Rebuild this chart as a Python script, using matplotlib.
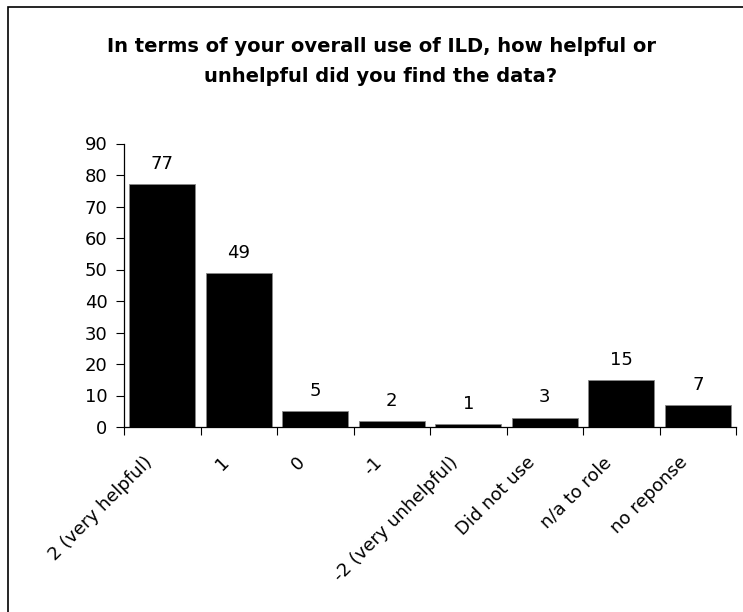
import matplotlib
matplotlib.use("Agg")
import matplotlib.pyplot as plt
from matplotlib.patches import Rectangle
from matplotlib.transforms import ScaledTranslation

plt.rcParams['font.family'] = ['DejaVu Sans']

categories = ["2 (very helpful)", "1", "0", "-1", "-2 (very unhelpful)",
              "Did not use", "n/a to role", "no reponse"]
counts = [77, 49, 5, 2, 1, 3, 15, 7]
yticks = list(range(0, 100, 10))

W, H = 743, 612
fig = plt.figure(figsize=(W / 100, H / 100), dpi=100)

# outer frame of the chart area
fig.add_artist(Rectangle((8 / W, 0 - 0.01), 1.02, 1 - 7 / H + 0.01,
                         transform=fig.transFigure, fill=False,
                         edgecolor='black', linewidth=1.2))

ax = fig.add_axes([124 / W, 1 - 427 / H, (736 - 124) / W, (427 - 143.5) / H])
x = list(range(len(categories)))
bars = ax.bar(x, counts, width=0.86, color='black', edgecolor='#888888',
              linewidth=0.6)

fs = 13
for xi, v in zip(x, counts):
    ax.annotate(str(v), (xi, v), xytext=(0, 8), textcoords='offset points',
                ha='center', va='bottom', fontsize=fs)

ax.set_xlim(-0.5, len(categories) - 0.5)
ax.set_ylim(0, 90)
ax.set_yticks(yticks)
ax.tick_params(axis='y', labelsize=fs, direction='out', length=6, width=0.8,
               pad=6)

# tick marks sit between categories, labels at category centres
ax.set_xticks([i - 0.5 for i in range(len(categories) + 1)])
ax.set_xticklabels([])
ax.tick_params(axis='x', direction='out', length=6, width=0.8)
ax.set_xticks(x, minor=True)
ax.set_xticklabels(categories, minor=True, rotation=45, ha='right',
                   rotation_mode='anchor', fontsize=fs)
ax.tick_params(axis='x', which='minor', length=0, pad=19)

# nudge the slanted category labels left of their centres
shift = ScaledTranslation(-19 / 100, 0, fig.dpi_scale_trans)
for lab in ax.get_xticklabels(minor=True):
    lab.set_transform(lab.get_transform() + shift)

for side in ('top', 'right'):
    ax.spines[side].set_visible(False)
for side in ('left', 'bottom'):
    ax.spines[side].set_linewidth(0.9)

fig.text(381 / W, 1 - 47 / H, "In terms of your overall use of ILD, how helpful or",
         ha='center', va='center', fontsize=14, fontweight='bold')
fig.text(381 / W, 1 - 76 / H, "unhelpful did you find the data?",
         ha='center', va='center', fontsize=14, fontweight='bold')

fig.savefig("out.png", dpi=100)
